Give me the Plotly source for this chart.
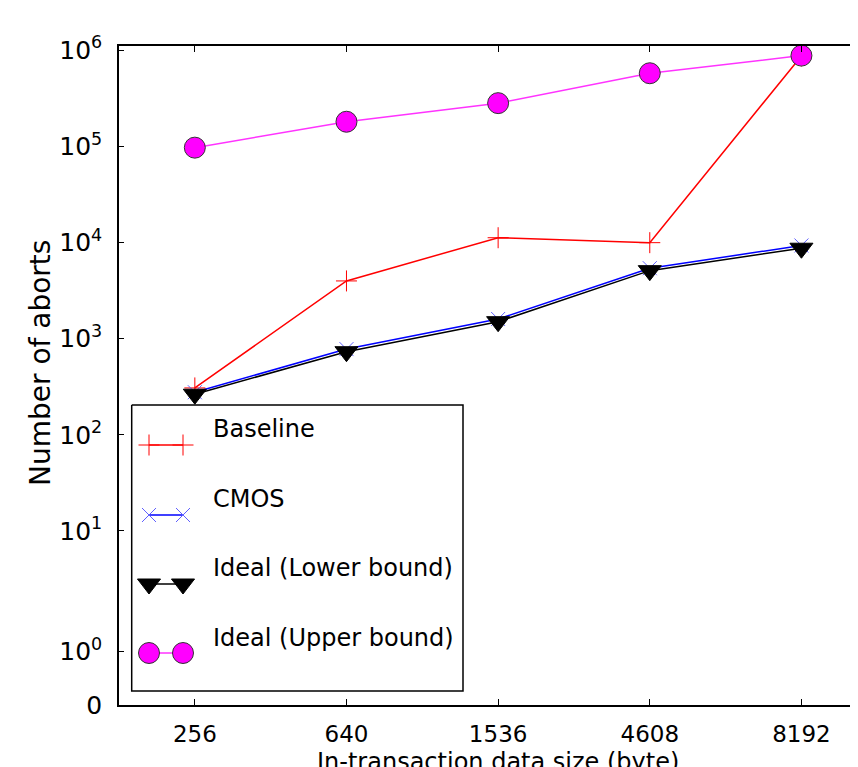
import numpy as np
import plotly.graph_objects as go

# ---------------- data ----------------
sizes = ["256", "640", "1536", "4608", "8192"]
baseline = [307, 3980, 11200, 9950, 870000]
cmos = [277, 778, 1600, 5400, 9300]
ideal_lower = [264, 731, 1500, 5090, 8710]
ideal_upper = [96800, 180000, 281000, 575000, 877000]

ytick_values = [0, 1, 10, 100, 1000, 10000, 100000, 1000000]
ytick_labels = ["0", "10<sup>0</sup>", "10<sup>1</sup>", "10<sup>2</sup>", "10<sup>3</sup>",
                "10<sup>4</sup>", "10<sup>5</sup>", "10<sup>6</sup>"]

series_names = ["Baseline", "CMOS", "Ideal (Lower bound)", "Ideal (Upper bound)"]

# symmetric-log scale (linthresh=2, linscale=1, base 10), like matplotlib's symlog
LINTHRESH = 2.0
LINSCALE = 1.0 / (1.0 - 1.0 / 10.0)


def symlog(v):
    v = np.asarray(v, dtype=float)
    a = np.abs(v)
    lin = v / LINTHRESH * LINSCALE
    lg = np.sign(v) * (LINSCALE + np.log10(np.maximum(a, 1e-300) / LINTHRESH))
    return np.where(a <= LINTHRESH, lin, lg)


# page has an 8px body margin; plot area should span page x 119..858, y 46..705
OFF = 8
W, H = 858 - OFF, 767 - OFF
PX0, PX1, PY0, PY1 = 119, 858, 46, 705
L, R, T, B = PX0 - OFF, 0, PY0 - OFF, 767 - PY1
FONT = "DejaVu Sans"

styles = [
    dict(line=dict(color="#ff0000", width=1.5),
         marker=dict(symbol="cross-thin-open", size=15, color="#ff0000",
                     line=dict(color="#ff0000", width=1))),
    dict(line=dict(color="#0000ff", width=1.5),
         marker=dict(symbol="x-thin-open", size=14, color="#6060ff",
                     line=dict(color="#6060ff", width=1))),
    dict(line=dict(color="#000000", width=1.5),
         marker=dict(symbol="triangle-down", size=20, color="#000000",
                     line=dict(color="#000000", width=1))),
    dict(line=dict(color="#ff33ff", width=1.5),
         marker=dict(symbol="circle", size=21, color="#ff00ff",
                     line=dict(color="#333333", width=1))),
]

fig = go.Figure()
for name, vals, st in zip(series_names, [baseline, cmos, ideal_lower, ideal_upper], styles):
    fig.add_trace(go.Scatter(x=sizes, y=symlog(vals), mode="lines+markers", name=name,
                             showlegend=False, xaxis="x", yaxis="y", **st))

# ---------------- matplotlib-style legend (overlay axes in page-pixel units) ----
box_x0, box_x1, box_y0, box_y1 = 131.7, 463, 405, 691
fig.add_trace(go.Scatter(x=[box_x0, box_x1, box_x1, box_x0, box_x0],
                         y=[box_y0, box_y0, box_y1, box_y1, box_y0],
                         mode="lines", fill="toself", fillcolor="white",
                         line=dict(color="black", width=1.5), showlegend=False,
                         hoverinfo="skip", xaxis="x2", yaxis="y2"))
legend_line_y = [445, 515, 584, 653]
legend_text_y = [429, 499, 568, 638]
for name, st, ly, ty in zip(series_names, styles, legend_line_y, legend_text_y):
    fig.add_trace(go.Scatter(x=[149, 183], y=[ly, ly], mode="lines+markers",
                             showlegend=False, hoverinfo="skip",
                             xaxis="x2", yaxis="y2", **st))
    fig.add_annotation(x=211, y=ty, xref="x2", yref="y2", text=name, showarrow=False,
                       xanchor="left", yanchor="middle",
                       font=dict(family=FONT, size=24, color="black"))


def px_to_paper_x(px):
    return (px - PX0) / (PX1 - PX0)


def px_to_paper_y(py):
    return (PY1 - py) / (PY1 - PY0)


fig.add_annotation(x=px_to_paper_x(40), y=px_to_paper_y(363), xref="paper", yref="paper",
                   text="Number of aborts", textangle=-90, showarrow=False,
                   xanchor="center", yanchor="middle",
                   font=dict(family=FONT, size=28, color="black"))
fig.add_annotation(x=px_to_paper_x(498), y=px_to_paper_y(746), xref="paper", yref="paper",
                   text="In-transaction data size (byte)", showarrow=False,
                   xanchor="center", yanchor="top",
                   font=dict(family=FONT, size=24, color="black"))

ymax = 6.853
fig.update_layout(
    width=W, height=H,
    margin=dict(l=L, r=R, t=T, b=B, pad=0),
    paper_bgcolor="white", plot_bgcolor="white",
    font=dict(family=FONT, color="black"),
    showlegend=False,
    xaxis=dict(type="category", range=[-0.5, 4.373], showgrid=False, zeroline=False,
               showline=True, linecolor="black", linewidth=1.5, mirror="ticks",
               ticks="inside", ticklen=6, tickwidth=1, tickcolor="black",
               tickfont=dict(family=FONT, size=23, color="black"),
               ticklabelstandoff=8),
    yaxis=dict(range=[0, ymax], showgrid=False, zeroline=False,
               showline=True, linecolor="black", linewidth=1.5,
               ticks="inside", ticklen=5, tickwidth=1, tickcolor="black",
               tickmode="array", tickvals=symlog(ytick_values).tolist(), ticktext=ytick_labels,
               tickfont=dict(family=FONT, size=25, color="black"),
               ticklabelstandoff=10),
    xaxis2=dict(overlaying="x", range=[PX0, PX1], visible=False, fixedrange=True),
    yaxis2=dict(overlaying="y", range=[PY1, PY0], visible=False, fixedrange=True),
)

fig.write_html("out.html")
